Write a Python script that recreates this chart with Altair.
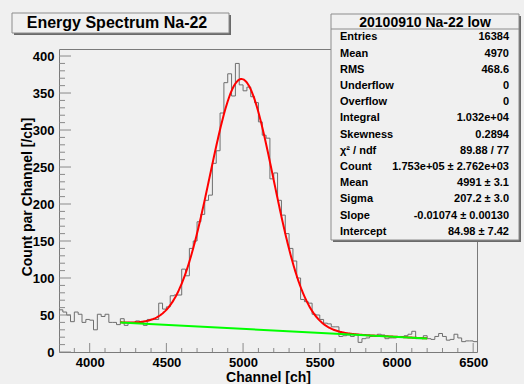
import altair as alt
import numpy as np
import pandas as pd

# ---- histogram: 25-channel bins starting at channel 3800 ----
bin_start = 3800
bin_width = 25
counts = [
    57, 54, 50, 41, 54, 51, 40, 44, 43, 30,
    51, 48, 51, 40, 40, 37, 45, 36, 40, 40,
    42, 40, 36, 44, 44, 44, 66, 58, 61, 76,
    77, 77, 112, 103, 140, 150, 176, 186, 205, 212,
    255, 272, 323, 364, 376, 346, 390, 361, 353, 358,
    345, 337, 311, 293, 289, 234, 242, 205, 185, 160,
    140, 123, 100, 71, 68, 66, 51, 50, 44, 39,
    38, 34, 34, 21, 22, 23, 21, 24, 13, 18,
    19, 21, 21, 24, 23, 18, 19, 19, 21, 21,
    22, 24, 28, 18, 18, 22, 18, 17, 21, 25,
    21, 16, 17, 24, 19, 14, 15, 15, 14,
]

# ---- fit result: gaussian (normalised, scaled by Count) + linear background ----
fit_count = 1.753e05
fit_mean = 4991.0
fit_sigma = 207.2
fit_slope = -0.01074
fit_intercept = 84.98
fit_range = [4200, 6200]

# ---- stats box ----
stats_title = "20100910 Na-22 low"
stat_labels = ["Entries", "Mean", "RMS", "Underflow", "Overflow", "Integral",
               "Skewness", "χ² / ndf", "Count", "Mean", "Sigma", "Slope", "Intercept"]
stat_values = ["16384", "4970", "468.6", "0", "0", "1.032e+04", "0.2894",
               "89.88 / 77", "1.753e+05 ± 2.762e+03", "4991 ± 3.1", "207.2 ± 3.0",
               "-0.01074 ± 0.00130", "84.98 ± 7.42"]

# ---- axes ----
x_domain = [3800, 6525]
y_domain = [0, 409.5]
x_major = [4000, 4500, 5000, 5500, 6000, 6500]
x_minor = [v for v in range(3900, 6500, 100) if v % 500 != 0]
y_major = list(range(0, 401, 50))
y_minor = [v for v in range(10, 401, 10) if v % 50 != 0]

FONT = "Liberation Sans"
W, H = 418, 303
BG = "#f0f0f0"

xs = alt.Scale(domain=x_domain, nice=False, zero=False)
ys = alt.Scale(domain=y_domain, nice=False, zero=False)

edges = bin_start + bin_width * np.arange(len(counts) + 1)
hist_df = pd.DataFrame({"channel": edges, "count": counts + [counts[-1]]})

fx = np.arange(fit_range[0], fit_range[1] + 1, 5, dtype=float)
gauss = fit_count / (np.sqrt(2 * np.pi) * fit_sigma) * np.exp(-0.5 * ((fx - fit_mean) / fit_sigma) ** 2)
fit_df = pd.DataFrame({"channel": fx, "count": gauss + fit_intercept + fit_slope * fx})
bg_x = np.array(fit_range, dtype=float)
bg_df = pd.DataFrame({"channel": bg_x, "count": fit_intercept + fit_slope * bg_x})

x_axis = alt.Axis(values=x_major, format="d", labelFont=FONT, labelFontWeight="bold",
                  labelFontSize=13, labelColor="black", labelPadding=4, labelFlush=False,
                  labelOverlap=False, tickSize=0, domain=False, grid=False,
                  title="Channel [ch]", titleFont=FONT, titleFontWeight="bold",
                  titleFontSize=14, titleColor="black", titleX=W / 2, titleY=25,
                  titleAlign="center", titleBaseline="middle")
y_axis = alt.Axis(values=y_major, format="d", labelFont=FONT, labelFontWeight="bold",
                  labelFontSize=13, labelColor="black", labelPadding=5, labelFlush=False,
                  labelOverlap=False, tickSize=0, domain=False, grid=False,
                  title="Count par Channel [/ch]", titleFont=FONT, titleFontWeight="bold",
                  titleFontSize=14, titleColor="black", titleX=-32, titleY=H / 2 - 4,
                  titleAlign="center", titleBaseline="middle", titleAngle=270)

X = alt.X("channel:Q", scale=xs, axis=x_axis)
Y = alt.Y("count:Q", scale=ys, axis=y_axis)

hist = alt.Chart(hist_df).mark_line(interpolate="step-after", color="#6e6e6e",
                                    strokeWidth=1).encode(x=X, y=Y)
fit = alt.Chart(fit_df).mark_line(color="#ff0000", strokeWidth=2).encode(x=X, y=Y)
bkg = alt.Chart(bg_df).mark_line(color="#00ff00", strokeWidth=2).encode(x=X, y=Y)

TICK = "#8a8a8a"


def x_ticks(vals, length):
    return alt.Chart(pd.DataFrame({"channel": vals})).mark_rule(color=TICK, strokeWidth=1).encode(
        x=X, y=alt.value(H), y2=alt.value(H - length))


def y_ticks(vals, length):
    return alt.Chart(pd.DataFrame({"count": vals})).mark_rule(color=TICK, strokeWidth=1).encode(
        y=Y, x=alt.value(0), x2=alt.value(length))


one = pd.DataFrame({"k": [0]})


def box(x1, y1, x2, y2, fill, stroke=None):
    kw = {"fill": fill}
    if stroke:
        kw.update(stroke=stroke, strokeWidth=1)
    return alt.Chart(one).mark_rect(**kw).encode(
        x=alt.value(x1), x2=alt.value(x2), y=alt.value(y1), y2=alt.value(y2))


def text(x, y, s, size, align="left"):
    return alt.Chart(one).mark_text(font=FONT, fontWeight="bold", fontSize=size,
                                    color="black", align=align, baseline="middle").encode(
        x=alt.value(x), y=alt.value(y), text=alt.value(s))


layers = [
    hist,
    x_ticks(x_minor, 4), x_ticks(x_major, 9),
    y_ticks(y_minor, 6), y_ticks(y_major, 12),
    fit, bkg,
    # title box
    box(-45, -34, 172, -14, "#6a6a6a"),
    box(-47, -36, 170, -16, BG, "#8c8c8c"),
    text(58, -26, "Energy Spectrum Na-22", 16, "center"),
    # stats box
    box(274, -33, 462, 193, "#6a6a6a"),
    box(272, -35, 460, 191, BG, "#8c8c8c"),
    text(366, -26, stats_title, 14, "center"),
    alt.Chart(one).mark_rule(color="#8c8c8c", strokeWidth=1).encode(
        x=alt.value(272), x2=alt.value(460), y=alt.value(-20)),
]
for i, (lab, val) in enumerate(zip(stat_labels, stat_values)):
    yy = -11.7 + 16.2 * i
    layers.append(text(281, yy, lab, 11, "left"))
    layers.append(text(450, yy, val, 11, "right"))

chart = alt.layer(*layers).properties(
    width=W, height=H,
    autosize=alt.AutoSizeParams(type="none"),
    padding={"left": 59, "top": 49, "right": 524 - 59 - W, "bottom": 384 - 49 - H},
    background=BG,
).configure_view(stroke="#7a7a7a", strokeWidth=1, fill=BG)

chart.save("out.html", embed_options={"renderer": "svg", "actions": False})
